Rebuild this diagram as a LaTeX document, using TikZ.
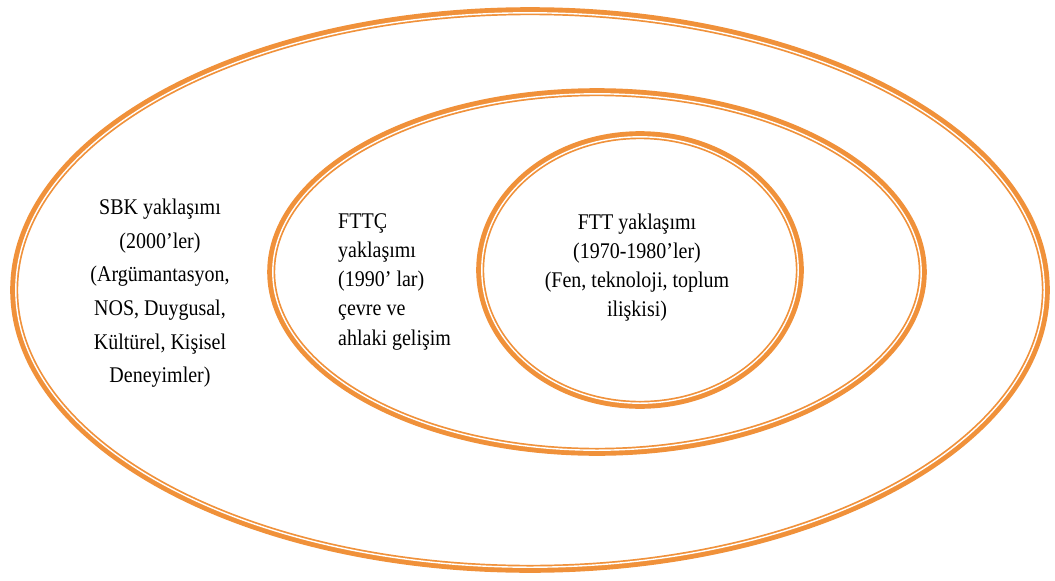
\documentclass[tikz,border=0pt]{standalone}
\usepackage{fontspec}
\usepackage{graphicx}
\setmainfont{Liberation Serif}
\definecolor{ring}{HTML}{F0913A}
\begin{document}
\begin{tikzpicture}[x=1pt,y=-1pt,
  txt/.style={inner sep=0pt}]
\useasboundingbox (0,0) rectangle (1055,581);
\newcommand{\ringell}[4]{%
  \draw[ring, line width=8pt] (#1,#2) ellipse [x radius=#3-1.2, y radius=#4-1.2];
  \draw[white, line width=1.4pt] (#1,#2) ellipse [x radius=#3-2.8, y radius=#4-2.8];
}
\ringell{530}{290}{517}{280}
\ringell{597}{272}{327}{181}
\ringell{640}{270}{161}{136}
\node[txt] (sbk) at (160,292) {\scalebox{1}[1.12]{\fontsize{20}{30}\selectfont\begin{tabular}{@{}c@{}}SBK yaklaşımı\\(2000’ler)\\(Argümantasyon,\\NOS, Duygusal,\\Kültürel, Kişisel\\Deneyimler)\end{tabular}}};
\node[txt, anchor=west] (fttc) at (338,281) {\scalebox{1}[1.12]{\fontsize{20}{26}\selectfont\begin{tabular}{@{}l@{}}FTTÇ\\yaklaşımı\\(1990’ lar)\\çevre ve\\ahlaki gelişim\end{tabular}}};
\node[txt] (ftt) at (637,267) {\scalebox{1}[1.12]{\fontsize{20}{26}\selectfont\begin{tabular}{@{}c@{}}FTT yaklaşımı\\(1970-1980’ler)\\(Fen, teknoloji, toplum\\ilişkisi)\end{tabular}}};
\end{tikzpicture}
\end{document}
